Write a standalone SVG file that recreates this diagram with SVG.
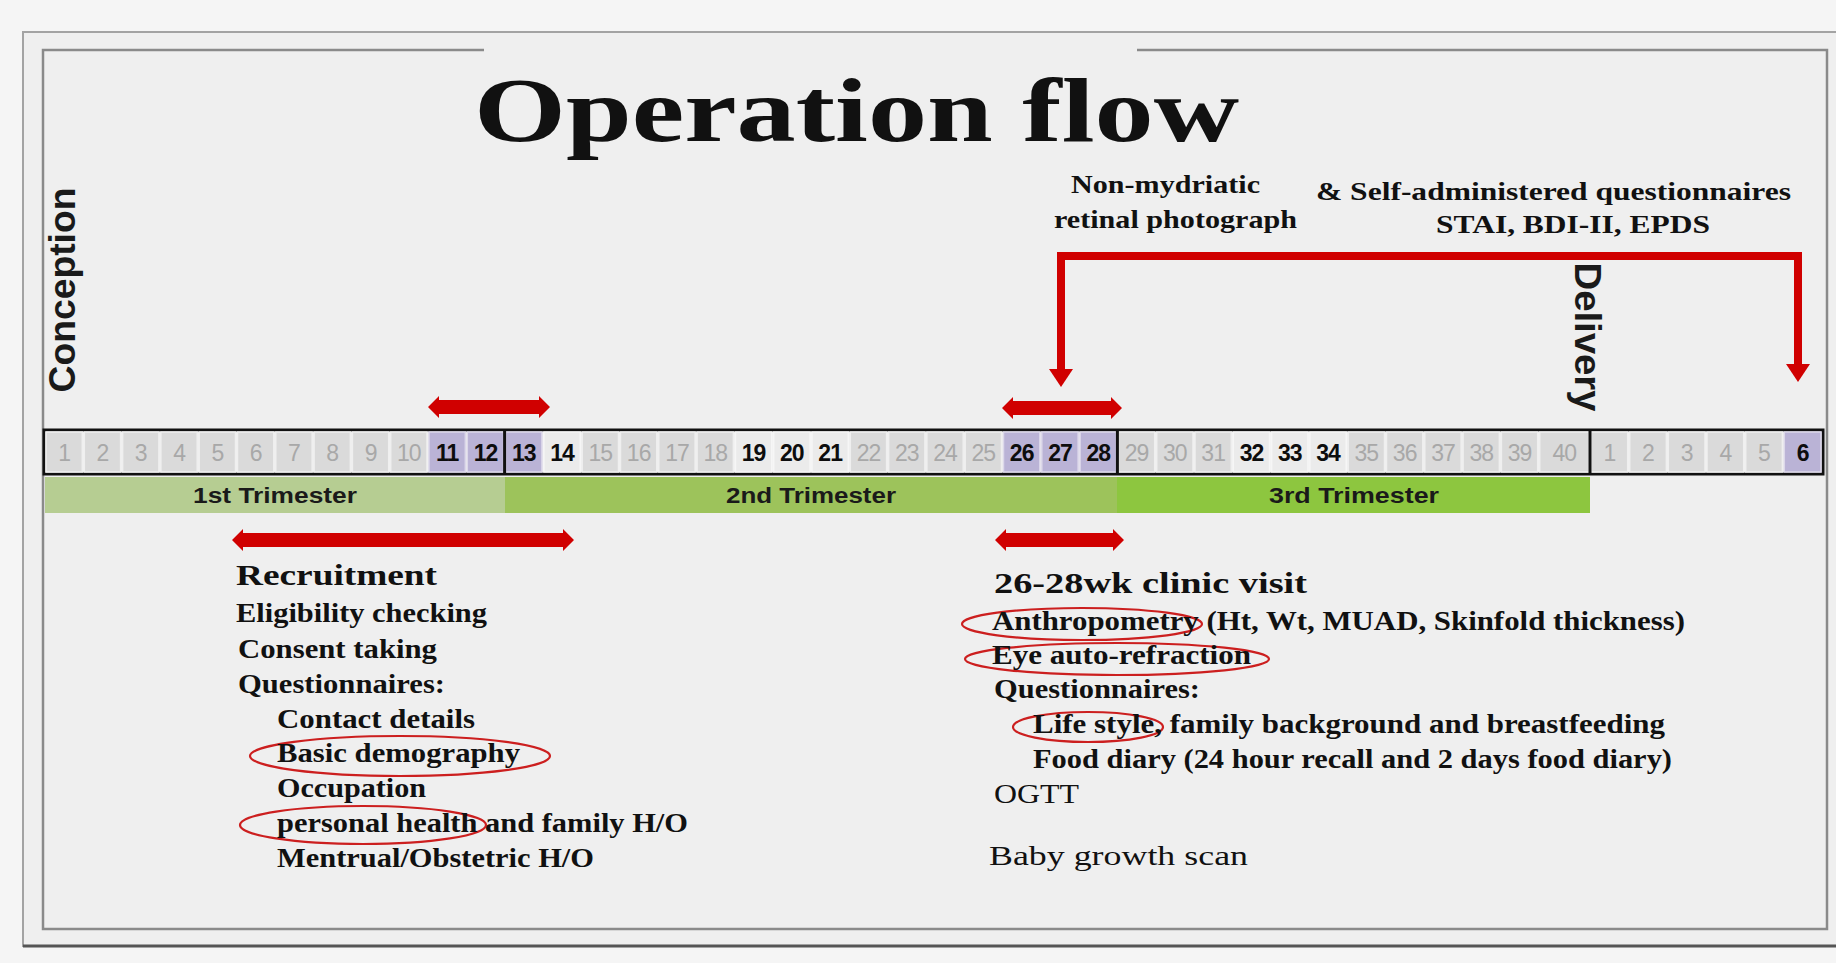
<svg xmlns="http://www.w3.org/2000/svg" width="1836" height="963" viewBox="0 0 1836 963">
<defs>
<style>
.serif{font-family:"Liberation Serif","Times New Roman",serif;font-weight:bold;fill:#111}
.reg{font-weight:normal}
.body{font-size:27px}
.head{font-size:30px}
.lbl{font-size:25px}
.sans{font-family:"Liberation Sans",Arial,sans-serif;font-weight:bold}
.c{fill:#dadada;stroke:#efefef;stroke-width:1.5}
.h{fill:#bab3d6;stroke:#dcd8ea;stroke-width:1.5}
.w{fill:#ebebeb;stroke:#f6f6f6;stroke-width:1.5}
.tn{font-family:"Liberation Sans",Arial,sans-serif;font-size:23px;fill:#a8a8a8;text-anchor:middle;letter-spacing:-1px}
.tb{font-family:"Liberation Sans",Arial,sans-serif;font-size:23px;font-weight:bold;fill:#0d0d0d;text-anchor:middle;letter-spacing:-1px}
.tri{font-family:"Liberation Sans",Arial,sans-serif;font-size:22px;font-weight:bold;fill:#1a1a1a;text-anchor:middle}
.ring{fill:none;stroke:#cc1f1f;stroke-width:2.2}
.red{fill:#d00000}
</style>
<marker id="ah" viewBox="0 0 18 24" refX="1" refY="12" markerWidth="18" markerHeight="24" markerUnits="userSpaceOnUse" orient="auto-start-reverse">
<path d="M0,0 L18,12 L0,24 z" fill="#d00000"/>
</marker>
</defs>

<rect x="0" y="0" width="1836" height="963" fill="#f5f5f5"/>
<g id="frame">
<rect x="23" y="32" width="1840" height="914" fill="#efefef" stroke="#a3a3a3" stroke-width="2"/>
<line x1="23" y1="946" x2="1836" y2="946" stroke="#555" stroke-width="3"/>
<path d="M484,50 H43 V929 H1827 V50 H1137" fill="none" stroke="#8a8a8a" stroke-width="2.5"/>
</g>

<g id="title">
<text x="474" y="141" class="serif" font-size="90" textLength="765" lengthAdjust="spacingAndGlyphs">Operation flow</text>
</g>

<g id="conception">
<text transform="translate(75,290) rotate(-90)" class="sans" font-size="36" text-anchor="middle" fill="#1a1a1a" textLength="205" lengthAdjust="spacingAndGlyphs">Conception</text>
</g>
<g id="delivery">
<text transform="translate(1575,337) rotate(90)" class="sans" font-size="37" text-anchor="middle" fill="#1a1a1a" textLength="149" lengthAdjust="spacingAndGlyphs">Delivery</text>
</g>

<g id="timeline">
<rect x="44" y="430" width="1779" height="44" fill="#f0f0f0" stroke="#111" stroke-width="3"/>
<rect class="c" x="46" y="432" width="36.3" height="40"/>
<rect class="c" x="84.3" y="432" width="36.3" height="40"/>
<rect class="c" x="122.6" y="432" width="36.3" height="40"/>
<rect class="c" x="160.9" y="432" width="36.3" height="40"/>
<rect class="c" x="199.2" y="432" width="36.3" height="40"/>
<rect class="c" x="237.5" y="432" width="36.3" height="40"/>
<rect class="c" x="275.8" y="432" width="36.3" height="40"/>
<rect class="c" x="314.1" y="432" width="36.3" height="40"/>
<rect class="c" x="352.4" y="432" width="36.3" height="40"/>
<rect class="c" x="390.7" y="432" width="36.3" height="40"/>
<rect class="h" x="429" y="432" width="36.3" height="40"/>
<rect class="h" x="467.3" y="432" width="36.3" height="40"/>
<rect class="h" x="505.6" y="432" width="36.3" height="40"/>
<rect class="w" x="543.9" y="432" width="36.3" height="40"/>
<rect class="c" x="582.2" y="432" width="36.3" height="40"/>
<rect class="c" x="620.5" y="432" width="36.3" height="40"/>
<rect class="c" x="658.8" y="432" width="36.3" height="40"/>
<rect class="c" x="697.1" y="432" width="36.3" height="40"/>
<rect class="w" x="735.4" y="432" width="36.3" height="40"/>
<rect class="w" x="773.7" y="432" width="36.3" height="40"/>
<rect class="w" x="812" y="432" width="36.3" height="40"/>
<rect class="c" x="850.3" y="432" width="36.3" height="40"/>
<rect class="c" x="888.6" y="432" width="36.3" height="40"/>
<rect class="c" x="926.9" y="432" width="36.3" height="40"/>
<rect class="c" x="965.2" y="432" width="36.3" height="40"/>
<rect class="h" x="1003.5" y="432" width="36.3" height="40"/>
<rect class="h" x="1041.8" y="432" width="36.3" height="40"/>
<rect class="h" x="1080.1" y="432" width="36.3" height="40"/>
<rect class="c" x="1118.4" y="432" width="36.3" height="40"/>
<rect class="c" x="1156.7" y="432" width="36.3" height="40"/>
<rect class="c" x="1195" y="432" width="36.3" height="40"/>
<rect class="w" x="1233.3" y="432" width="36.3" height="40"/>
<rect class="w" x="1271.6" y="432" width="36.3" height="40"/>
<rect class="w" x="1309.9" y="432" width="36.3" height="40"/>
<rect class="c" x="1348.2" y="432" width="36.3" height="40"/>
<rect class="c" x="1386.5" y="432" width="36.3" height="40"/>
<rect class="c" x="1424.8" y="432" width="36.3" height="40"/>
<rect class="c" x="1463.1" y="432" width="36.3" height="40"/>
<rect class="c" x="1501.4" y="432" width="36.3" height="40"/>
<rect class="c" x="1539.7" y="432" width="49.3" height="40"/>
<rect class="c" x="1591" y="432" width="36.7" height="40"/>
<rect class="c" x="1629.7" y="432" width="36.7" height="40"/>
<rect class="c" x="1668.3" y="432" width="36.7" height="40"/>
<rect class="c" x="1707" y="432" width="36.7" height="40"/>
<rect class="c" x="1745.7" y="432" width="36.7" height="40"/>
<rect class="h" x="1784.3" y="432" width="36.7" height="40"/>
<line x1="504.6" y1="430" x2="504.6" y2="474" stroke="#111" stroke-width="3"/>
<line x1="1117.4" y1="430" x2="1117.4" y2="474" stroke="#111" stroke-width="3"/>
<line x1="1590" y1="430" x2="1590" y2="474" stroke="#111" stroke-width="3"/>
<text class="tn" x="64.15" y="461">1</text>
<text class="tn" x="102.45" y="461">2</text>
<text class="tn" x="140.75" y="461">3</text>
<text class="tn" x="179.05" y="461">4</text>
<text class="tn" x="217.35" y="461">5</text>
<text class="tn" x="255.65" y="461">6</text>
<text class="tn" x="293.95" y="461">7</text>
<text class="tn" x="332.25" y="461">8</text>
<text class="tn" x="370.55" y="461">9</text>
<text class="tn" x="408.85" y="461">10</text>
<text class="tb" x="447.15" y="461">11</text>
<text class="tb" x="485.45" y="461">12</text>
<text class="tb" x="523.75" y="461">13</text>
<text class="tb" x="562.05" y="461">14</text>
<text class="tn" x="600.35" y="461">15</text>
<text class="tn" x="638.65" y="461">16</text>
<text class="tn" x="676.95" y="461">17</text>
<text class="tn" x="715.25" y="461">18</text>
<text class="tb" x="753.55" y="461">19</text>
<text class="tb" x="791.85" y="461">20</text>
<text class="tb" x="830.15" y="461">21</text>
<text class="tn" x="868.45" y="461">22</text>
<text class="tn" x="906.75" y="461">23</text>
<text class="tn" x="945.05" y="461">24</text>
<text class="tn" x="983.35" y="461">25</text>
<text class="tb" x="1021.65" y="461">26</text>
<text class="tb" x="1059.95" y="461">27</text>
<text class="tb" x="1098.25" y="461">28</text>
<text class="tn" x="1136.55" y="461">29</text>
<text class="tn" x="1174.85" y="461">30</text>
<text class="tn" x="1213.15" y="461">31</text>
<text class="tb" x="1251.45" y="461">32</text>
<text class="tb" x="1289.75" y="461">33</text>
<text class="tb" x="1328.05" y="461">34</text>
<text class="tn" x="1366.35" y="461">35</text>
<text class="tn" x="1404.65" y="461">36</text>
<text class="tn" x="1442.95" y="461">37</text>
<text class="tn" x="1481.25" y="461">38</text>
<text class="tn" x="1519.55" y="461">39</text>
<text class="tn" x="1564.35" y="461">40</text>
<text class="tn" x="1609.33" y="461">1</text>
<text class="tn" x="1648" y="461">2</text>
<text class="tn" x="1686.67" y="461">3</text>
<text class="tn" x="1725.33" y="461">4</text>
<text class="tn" x="1764" y="461">5</text>
<text class="tb" x="1802.67" y="461">6</text>
</g>

<g id="trimesters">
<rect x="45" y="477" width="460" height="36" fill="#b6cd92"/>
<rect x="505" y="477" width="612" height="36" fill="#9dc35b"/>
<rect x="1117" y="477" width="473" height="36" fill="#8dc63f"/>
<text class="tri" x="275" y="503" textLength="164" lengthAdjust="spacingAndGlyphs">1st Trimester</text>
<text class="tri" x="811" y="503" textLength="170" lengthAdjust="spacingAndGlyphs">2nd Trimester</text>
<text class="tri" x="1354" y="503" textLength="170" lengthAdjust="spacingAndGlyphs">3rd Trimester</text>
</g>

<g id="connectors">
<polygon class="red" points="428,407 439,396 439,400 539,400 539,396 550,407 539,418 539,414 439,414 439,418"/>
<polygon class="red" points="1002,408 1013,397 1013,401 1111,401 1111,397 1122,408 1111,419 1111,415 1013,415 1013,419"/>
<polygon class="red" points="232,540 243,529 243,533 563,533 563,529 574,540 563,551 563,547 243,547 243,551"/>
<polygon class="red" points="995,540 1006,529 1006,533 1113,533 1113,529 1124,540 1113,551 1113,547 1006,547 1006,551"/>
<path d="M1061,370 V256 H1798 V365" fill="none" stroke="#d00000" stroke-width="8" stroke-linejoin="miter" marker-start="url(#ah)" marker-end="url(#ah)"/>
</g>

<g id="retinal-label">
<text class="serif lbl" x="1071" y="193" textLength="189" lengthAdjust="spacingAndGlyphs">Non-mydriatic</text>
<text class="serif lbl" x="1054" y="228" textLength="243" lengthAdjust="spacingAndGlyphs">retinal photograph</text>
</g>
<g id="questionnaire-label">
<text class="serif lbl" x="1316" y="200" textLength="475" lengthAdjust="spacingAndGlyphs">&amp; Self-administered questionnaires</text>
<text class="serif lbl" x="1436" y="233" textLength="274" lengthAdjust="spacingAndGlyphs">STAI, BDI-II, EPDS</text>
</g>

<g id="recruitment">
<ellipse class="ring" cx="400" cy="756" rx="150" ry="20"/>
<ellipse class="ring" cx="363" cy="825" rx="123" ry="19"/>
<text class="serif head" x="236" y="585" textLength="201" lengthAdjust="spacingAndGlyphs">Recruitment</text>
<text class="serif body" x="236" y="622" textLength="251" lengthAdjust="spacingAndGlyphs">Eligibility checking</text>
<text class="serif body" x="238" y="658" textLength="199" lengthAdjust="spacingAndGlyphs">Consent taking</text>
<text class="serif body" x="238" y="693" textLength="207" lengthAdjust="spacingAndGlyphs">Questionnaires:</text>
<text class="serif body" x="277" y="728" textLength="198" lengthAdjust="spacingAndGlyphs">Contact details</text>
<text class="serif body" x="277" y="762" textLength="243" lengthAdjust="spacingAndGlyphs">Basic demography</text>
<text class="serif body" x="277" y="797" textLength="149" lengthAdjust="spacingAndGlyphs">Occupation</text>
<text class="serif body" x="277" y="832" textLength="411" lengthAdjust="spacingAndGlyphs">personal health and family H/O</text>
<text class="serif body" x="277" y="867" textLength="317" lengthAdjust="spacingAndGlyphs">Mentrual/Obstetric H/O</text>
</g>

<g id="clinic-visit">
<ellipse class="ring" cx="1082" cy="624" rx="120" ry="16"/>
<ellipse class="ring" cx="1117" cy="659" rx="152" ry="16"/>
<ellipse class="ring" cx="1088" cy="727" rx="75" ry="15"/>
<text class="serif head" x="994" y="593" textLength="313" lengthAdjust="spacingAndGlyphs">26-28wk clinic visit</text>
<text class="serif body" x="992" y="630" textLength="693" lengthAdjust="spacingAndGlyphs">Anthropometry (Ht, Wt, MUAD, Skinfold thickness)</text>
<text class="serif body" x="992" y="664" textLength="259" lengthAdjust="spacingAndGlyphs">Eye auto-refraction</text>
<text class="serif body" x="994" y="698" textLength="206" lengthAdjust="spacingAndGlyphs">Questionnaires:</text>
<text class="serif body" x="1033" y="733" textLength="632" lengthAdjust="spacingAndGlyphs">Life style, family background and breastfeeding</text>
<text class="serif body" x="1033" y="768" textLength="639" lengthAdjust="spacingAndGlyphs">Food diary (24 hour recall and 2 days food diary)</text>
<text class="serif body reg" x="994" y="803" textLength="85" lengthAdjust="spacingAndGlyphs">OGTT</text>
<text class="serif body reg" x="989" y="865" textLength="259" lengthAdjust="spacingAndGlyphs">Baby growth scan</text>
</g>
</svg>
